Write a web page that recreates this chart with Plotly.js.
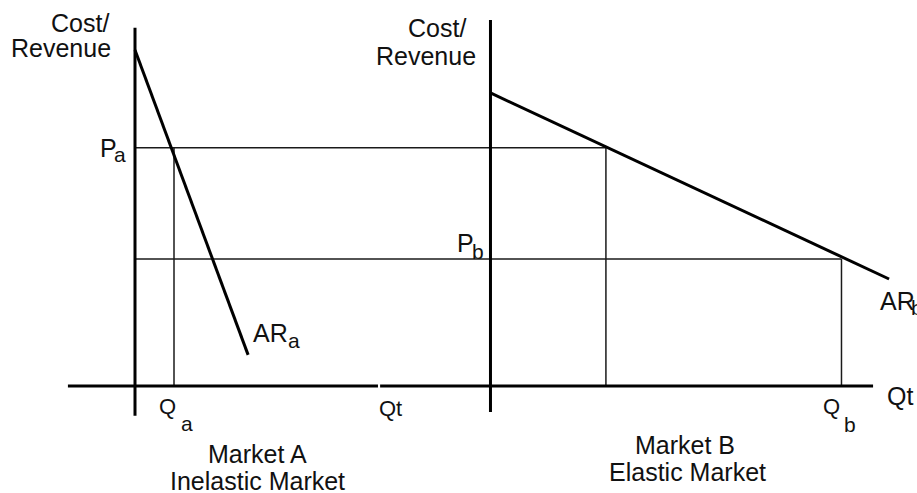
<!DOCTYPE html>
<html>
<head>
<meta charset="utf-8">
<script src="https://cdn.plot.ly/plotly-3.0.1.min.js"></script>
<style>html,body{margin:0;padding:0;background:#fff;}#chart{width:917px;height:493px;}</style>
</head>
<body>
<div id="chart"></div>
<script>
// ---- Data (quantity units on x, cost/revenue units on y) ----
const priceA = 7.5;            // P_a
const priceB = 4.0;            // P_b
const quantityA = 1.0;         // Q_a
const quantityB_atPA = 2.96;   // market B quantity at P_a
const quantityB = 9.0;         // Q_b
const originB = 9.115;         // where market B's axes start (shared x scale)

const arA_q = [0, 2.9];        // AR_a demand curve (market A, inelastic)
const arA_p = [10.58, 0.98];
const arB_q = [0, 10.22];      // AR_b demand curve (market B, elastic)
const arB_p = [9.23, 3.37];

const axisA_q = [-1.72, 6.23]; // market A quantity axis extent
const axisA_p = [-0.94, 11.28];// market A cost/revenue axis extent
const axisB_q = [-2.83, 9.81]; // market B quantity axis extent
const axisB_p = [-0.82, 11.53];// market B cost/revenue axis extent

// ---- Build traces ----
const thin = {color: '#1a1a1a', width: 1.5};
const thick = {color: '#000', width: 3};
function seg(xs, ys, line) {
  return {x: xs, y: ys, mode: 'lines', type: 'scatter', line: line, hoverinfo: 'skip'};
}
const shiftB = arr => arr.map(v => v + originB);

const traces = [
  // guide lines
  seg([0, originB + quantityB_atPA], [priceA, priceA], thin),
  seg([0, originB + quantityB], [priceB, priceB], thin),
  seg([quantityA, quantityA], [0, priceA], thin),
  seg(shiftB([quantityB_atPA, quantityB_atPA]), [0, priceA], thin),
  seg(shiftB([quantityB, quantityB]), [0, priceB], thin),
  // market A axes
  seg([0, 0], axisA_p, thick),
  seg(axisA_q, [0, 0], thick),
  // market B axes
  seg([originB, originB], axisB_p, thick),
  seg(shiftB(axisB_q), [0, 0], thick),
  // demand curves
  seg(arA_q, arA_p, thick),
  seg(shiftB(arB_q), arB_p, thick)
];

// ---- Labels ----
const FONT = 'Liberation Sans, Arial, sans-serif';
function lab(text, x, y, xanchor, size) {
  return {text: text, x: x, y: y, xref: 'x', yref: 'y', xanchor: xanchor, yanchor: 'middle',
          showarrow: false, font: {family: FONT, size: size || 25, color: '#111'}};
}
const annotations = [
  lab('Cost/', -0.62, 11.42, 'right'),
  lab('Revenue', -0.56, 10.65, 'right'),
  lab('P', -0.40, priceA, 'right'),
  lab('a', -0.58, 7.28, 'left', 21),
  lab('Q', 0.846, -0.66, 'center', 22),
  lab('a', 1.33, -1.17, 'center', 21),
  lab('Qt', 6.20, -0.72, 'left', 22),
  lab('AR', 2.98, 1.67, 'left'),
  lab('a', 3.88, 1.42, 'left', 21),
  lab('Market A', 3.13, -2.15, 'center'),
  lab('Inelastic Market', 3.15, -2.98, 'center'),

  lab('Cost/', 8.53, 11.29, 'right'),
  lab('Revenue', 8.79, 10.38, 'right'),
  lab('P', 8.75, 4.50, 'right'),
  lab('b', 8.58, 4.25, 'left', 21),
  lab('Q', 17.87, -0.66, 'center', 22),
  lab('b', 18.33, -1.20, 'center', 21),
  lab('Qt', 19.22, -0.31, 'left'),
  lab('AR', 19.05, 2.68, 'left'),
  lab('b', 19.85, 2.46, 'left', 21),
  lab('Market B', 14.10, -1.86, 'center'),
  lab('Elastic Market', 14.17, -2.72, 'center')
];

const layout = {
  width: 917, height: 493, autosize: false,
  margin: {l: 0, r: 0, t: 0, b: 0, pad: 0},
  paper_bgcolor: '#fff', plot_bgcolor: '#fff',
  showlegend: false, hovermode: false,
  xaxis: {range: [-3.4615, 20.0513], visible: false, fixedrange: true},
  yaxis: {range: [-3.370, 12.157], visible: false, fixedrange: true},
  annotations: annotations
};

Plotly.newPlot('chart', traces, layout, {displayModeBar: false, staticPlot: true});
</script>
</body>
</html>
